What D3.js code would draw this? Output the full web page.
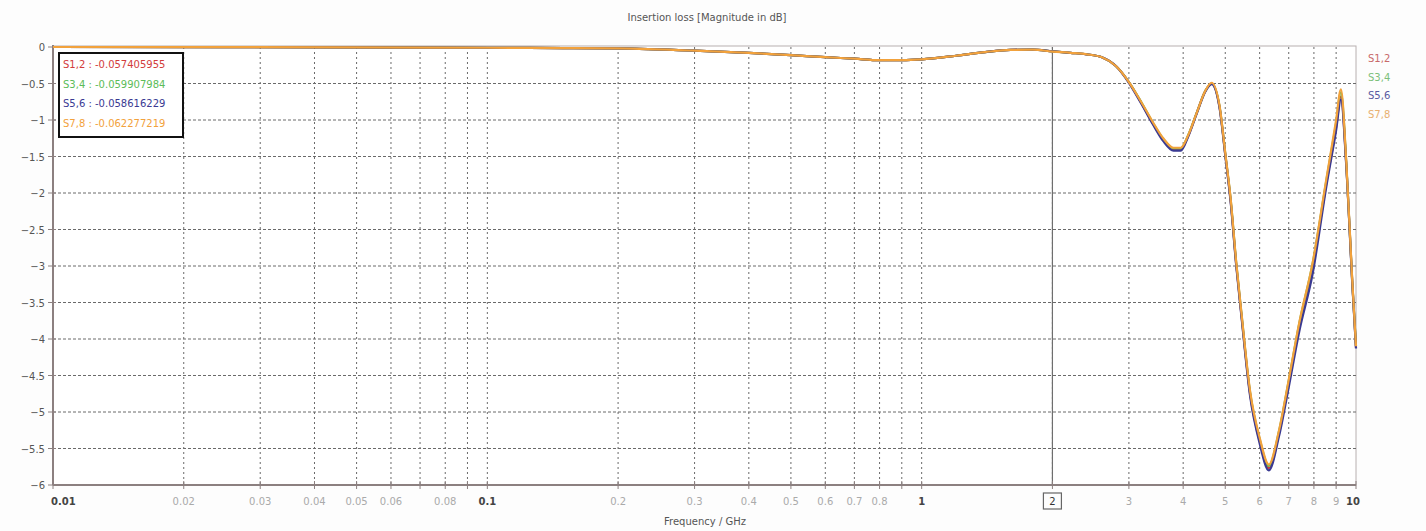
<!DOCTYPE html>
<html><head><meta charset="utf-8">
<script src="https://cdn.jsdelivr.net/npm/d3@7/dist/d3.min.js"></script>
<style>body{margin:0;background:#fdfdfd}svg{display:block}text{font-family:"DejaVu Sans",sans-serif}</style>
</head><body><svg id="c" width="1426" height="531"></svg>
<script>
const freqs = [0.01,0.05,0.1,0.15,0.2,0.3,0.4,0.5,0.6,0.7,0.8,0.9,1.0,1.2,1.4,1.6,1.8,2.0,2.2,2.4,2.6,2.8,3.0,3.2,3.4,3.6,3.8,3.95,4.1,4.3,4.5,4.65,4.85,5.0,5.15,5.3,5.45,5.7,6.0,6.3,6.65,7.0,7.4,7.95,8.55,9.0,9.23,9.5,9.8,10];
const s12 = [0,-0.005,-0.01,-0.015,-0.02,-0.05,-0.08,-0.11,-0.14,-0.16,-0.18,-0.18,-0.17,-0.12,-0.07,-0.04,-0.035,-0.0574,-0.08,-0.1,-0.14,-0.26,-0.48,-0.76,-1.04,-1.27,-1.4,-1.4,-1.23,-0.9,-0.6,-0.5,-0.82,-1.47,-2.13,-2.98,-3.68,-4.74,-5.4,-5.77,-5.29,-4.6,-3.82,-3.0,-1.86,-1.1,-0.68,-1.62,-3.2,-4.12];
const s34 = [0,-0.005,-0.01,-0.015,-0.02,-0.05,-0.08,-0.11,-0.14,-0.16,-0.18,-0.18,-0.17,-0.12,-0.07,-0.04,-0.036,-0.0599,-0.08,-0.1,-0.14,-0.26,-0.48,-0.75,-1.03,-1.26,-1.39,-1.39,-1.22,-0.9,-0.6,-0.5,-0.81,-1.46,-2.11,-2.96,-3.66,-4.72,-5.37,-5.74,-5.26,-4.57,-3.79,-2.96,-1.82,-1.04,-0.62,-1.6,-3.2,-4.1];
const s56 = [0,-0.005,-0.01,-0.015,-0.02,-0.05,-0.08,-0.11,-0.14,-0.16,-0.18,-0.18,-0.17,-0.12,-0.07,-0.04,-0.035,-0.0586,-0.08,-0.1,-0.14,-0.26,-0.49,-0.77,-1.05,-1.29,-1.42,-1.42,-1.24,-0.91,-0.61,-0.51,-0.83,-1.48,-2.15,-3.0,-3.7,-4.77,-5.43,-5.8,-5.33,-4.66,-3.9,-3.1,-1.9,-1.14,-0.72,-1.64,-3.22,-4.13];
const s78 = [0,-0.005,-0.01,-0.015,-0.02,-0.05,-0.08,-0.11,-0.14,-0.16,-0.18,-0.18,-0.17,-0.12,-0.07,-0.04,-0.037,-0.0623,-0.08,-0.1,-0.14,-0.26,-0.48,-0.75,-1.02,-1.25,-1.38,-1.38,-1.22,-0.9,-0.6,-0.49,-0.8,-1.45,-2.1,-2.95,-3.65,-4.7,-5.35,-5.72,-5.25,-4.56,-3.78,-2.95,-1.8,-1.0,-0.58,-1.58,-3.18,-4.1];
const seriesNames = ["S1,2","S3,4","S5,6","S7,8"];
const legendValues = ["-0.057405955","-0.059907984","-0.058616229","-0.062277219"];
const seriesColors = ["#d23c3c","#5cbc58","#3a3a92","#f2a23c"];
const labelColors = ["#c86a6a","#7cc07a","#5a5aa0","#e8b070"];
const xLabeled = [0.01,0.02,0.03,0.04,0.05,0.06,0.08,0.1,0.2,0.3,0.4,0.5,0.6,0.7,0.8,1,2,3,4,5,6,7,8,9,10];
const xBold = [0.01,0.1,1,10];
const yTicks = [0,-0.5,-1,-1.5,-2,-2.5,-3,-3.5,-4,-4.5,-5,-5.5,-6];
const markerFreq = 2;

const svg = d3.select("#c");
const L=53,R=1356,T=47,B=485;
const x = d3.scaleLog().domain([0.01,10]).range([L,R]);
const y = d3.scaleLinear().domain([-6,0]).range([B,T]);

const gridX = [];
for (let d=0.01; d<10; d*=10) for (let k=1;k<=9;k++) gridX.push(+(d*k).toPrecision(3));
gridX.push(10);

const g = svg.append("g");
g.append("rect").attr("x",L).attr("y",T-1).attr("width",R-L).attr("height",B-T+1)
 .attr("fill","#ffffff").attr("stroke","#b8b0b0").attr("stroke-width",1);
g.selectAll(".gx").data(gridX.filter(v=>v>0.01&&v<10)).join("line")
 .attr("x1",d=>x(d)).attr("x2",d=>x(d)).attr("y1",T).attr("y2",B)
 .attr("stroke","#6a6a6a").attr("stroke-width",1).attr("stroke-dasharray","2,3");
g.selectAll(".gy").data(yTicks.filter(v=>v<0&&v>-6)).join("line")
 .attr("x1",L).attr("x2",R).attr("y1",d=>y(d)).attr("y2",d=>y(d))
 .attr("stroke","#6a6a6a").attr("stroke-width",1).attr("stroke-dasharray","3,2");
g.append("line").attr("x1",x(markerFreq)).attr("x2",x(markerFreq)).attr("y1",T).attr("y2",B)
 .attr("stroke","#6e6e6e").attr("stroke-width",1.2);

g.append("line").attr("x1",L).attr("x2",L).attr("y1",T-2).attr("y2",B).attr("stroke","#8c8080").attr("stroke-width",2);
g.append("line").attr("x1",L).attr("x2",R).attr("y1",B).attr("y2",B).attr("stroke","#8c8080").attr("stroke-width",2);

g.selectAll(".ytk").data(yTicks).join("line").attr("x1",L-5).attr("x2",L+3)
 .attr("y1",d=>y(d)).attr("y2",d=>y(d)).attr("stroke","#8c8080");
g.selectAll(".ytl").data(yTicks).join("text").attr("x",L-8).attr("y",d=>y(d)+4)
 .attr("text-anchor","end").attr("font-size",10).attr("fill","#555")
 .text(d=>d===0?"0":d3.format("")(d));
g.selectAll(".xtk").data(gridX).join("line").attr("x1",d=>x(d)).attr("x2",d=>x(d))
 .attr("y1",B-4).attr("y2",B+4).attr("stroke","#8c8080");
g.selectAll(".xtl").data(xLabeled).join("text").attr("x",d=>x(d)).attr("y",B+20)
 .attr("text-anchor",d=>d===0.01?"start":(d===10?"end":"middle"))
 .attr("dx",d=>d===0.01?-2:(d===10?4:0))
 .attr("font-size",10)
 .attr("font-weight",d=>xBold.includes(d)?"bold":"normal")
 .attr("fill",d=>xBold.includes(d)?"#444":(d===markerFreq?"#333":"#aaa"))
 .text(d=>String(d));
g.append("rect").attr("x",x(markerFreq)-9).attr("y",B+8).attr("width",18).attr("height",16)
 .attr("fill","none").attr("stroke","#666").attr("stroke-width",1.2);

const line = d3.line().x(d=>x(d[0])).y(d=>y(d[1])).curve(d3.curveMonotoneX);
const allSeries=[s12,s34,s56,s78];
[0,1,2,3].forEach(i=>{
  g.append("path").datum(freqs.map((f,j)=>[f,allSeries[i][j]]))
   .attr("d",line).attr("fill","none").attr("stroke",seriesColors[i]).attr("stroke-width",2.2);
});

const lg = svg.append("g");
lg.append("rect").attr("x",59).attr("y",53).attr("width",124).attr("height",84)
 .attr("fill","#ffffff").attr("stroke","#111").attr("stroke-width",2);
seriesNames.forEach((n,i)=>{
  lg.append("text").attr("x",63).attr("y",68+i*19.5).attr("font-size",10)
   .attr("fill",seriesColors[i]).text(n+" : "+legendValues[i]);
  svg.append("text").attr("x",1368).attr("y",62+i*18.5).attr("font-size",10)
   .attr("fill",labelColors[i]).text(n);
});

svg.append("text").attr("x",707).attr("y",21).attr("text-anchor","middle").attr("font-size",10)
 .attr("fill","#555").text("Insertion loss [Magnitude in dB]");
svg.append("text").attr("x",705).attr("y",525).attr("text-anchor","middle").attr("font-size",10)
 .attr("fill","#555").text("Frequency / GHz");
</script></body></html>
